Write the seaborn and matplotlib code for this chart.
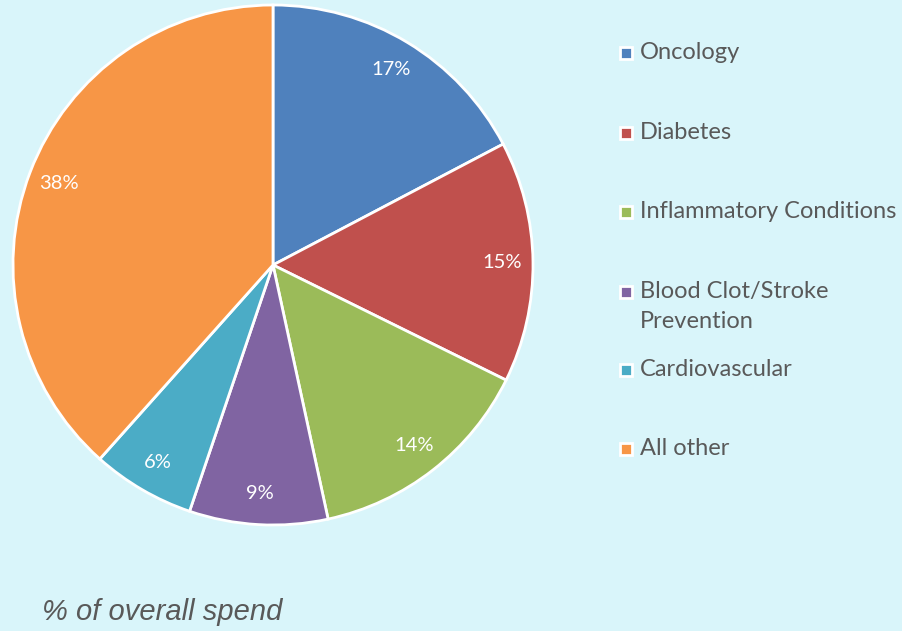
import matplotlib.pyplot as plt
import seaborn as sns
from matplotlib.patches import Rectangle

# share of overall spend by therapy area (%), clockwise from 12 o'clock
categories = ["Oncology", "Diabetes", "Inflammatory Conditions",
              "Blood Clot/Stroke\nPrevention", "Cardiovascular", "All other"]
spend_share = [17.3, 15.0, 14.3, 8.6, 6.4, 38.4]
colors = ["#4F81BD", "#C0504D", "#9BBB59", "#8064A2", "#4BACC6", "#F79646"]
caption = "% of overall spend"

BG = "#D9F5FA"
TXT = "#595959"
W, H = 902, 631

sns.set_theme(style="white")
plt.rcParams['font.family'] = ['Lato', 'DejaVu Sans']

fig = plt.figure(figsize=(W / 100, H / 100), dpi=100, facecolor=BG)

# pie: centre ~(273, 265) px, radius ~260 px
ax = fig.add_axes([13 / W, 1 - 525 / H, 520 / W, 520 / H])
ax.set_facecolor(BG)
wedges, _, autotexts = ax.pie(
    spend_share, colors=colors, startangle=90, counterclock=False,
    autopct='%.0f%%', pctdistance=0.88, radius=1,
    wedgeprops=dict(edgecolor='white', linewidth=2),
    textprops=dict(color='white', fontsize=14.5),
)
ax.set_xlim(-1, 1)
ax.set_ylim(-1, 1)
ax.set_aspect('equal')
ax.axis('off')

# legend drawn row by row so the two-line entry keeps the even spacing
row_top = [42, 122, 201, 281, 359, 438]
for name, c, y in zip(categories, colors, row_top):
    fig.patches.append(Rectangle((620 / W, 1 - (y + 17) / H), 12 / W, 12 / H,
                                 transform=fig.transFigure, facecolor=c,
                                 edgecolor='white', linewidth=2))
    fig.text(640 / W, 1 - y / H, name, va='top', ha='left', fontsize=17,
             color=TXT, linespacing=1.5)

fig.text(42 / W, 1 - 612 / H, caption, va='center', ha='left', fontsize=21,
         style='italic', color=TXT, family=['Liberation Sans', 'DejaVu Sans'])

fig.savefig('out.png', dpi=100, facecolor=BG)
